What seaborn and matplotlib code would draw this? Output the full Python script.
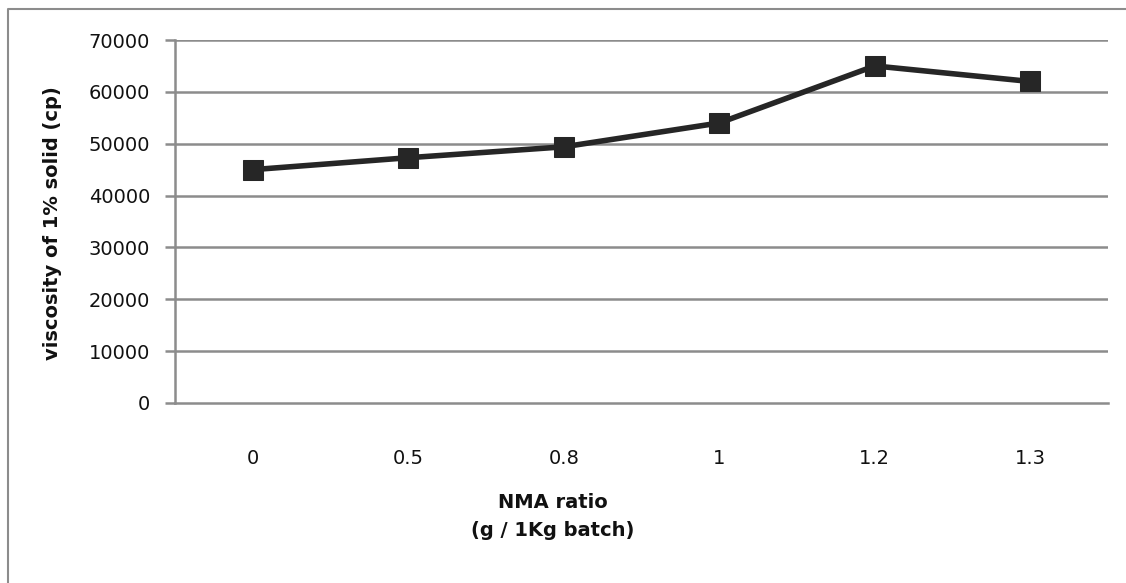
import matplotlib
matplotlib.use("Agg")
import matplotlib.pyplot as plt
import seaborn as sns
import pandas as pd
from matplotlib.lines import Line2D

categories = ["0", "0.5", "0.8", "1", "1.2", "1.3"]
viscosity = [45000, 47300, 49400, 54000, 65000, 62000]
y_ticks = [0, 10000, 20000, 30000, 40000, 50000, 60000, 70000]

sns.set_theme(style="white")
plt.rcParams['font.family'] = ['DejaVu Sans']

df = pd.DataFrame({"ratio": categories, "viscosity": viscosity})

W, H = 1126, 583
fig = plt.figure(figsize=(W / 100, H / 100), dpi=100)
ax = fig.add_axes([175 / W, 1 - 403 / H, (1108 - 175) / W, (403 - 40) / H])

grid_c = "#8c8c8c"
for t in y_ticks[1:]:
    ax.axhline(t, color=grid_c, lw=1.8, zorder=0)

sns.lineplot(data=df, x="ratio", y="viscosity", ax=ax, color="#262626",
             lw=4, marker="s", markersize=14, markeredgecolor="#262626",
             markerfacecolor="#262626", sort=False, zorder=3)

ax.set_xlim(-0.5, len(categories) - 0.5)
ax.set_ylim(0, 70000)
ax.set_yticks(y_ticks)
ax.set_yticklabels([str(t) for t in y_ticks], fontsize=14, color="#111111")
ax.set_xticks(range(len(categories)))
ax.set_xticklabels(categories, fontsize=14, color="#111111")
ax.tick_params(axis="y", which="both", left=True, length=7, width=1.8,
               color=grid_c, pad=11)
ax.tick_params(axis="x", which="both", bottom=False, pad=27)

for s in ["top", "right"]:
    ax.spines[s].set_visible(False)
for s in ["left", "bottom"]:
    ax.spines[s].set_color(grid_c)
    ax.spines[s].set_linewidth(1.8)

ax.set_xlabel("")
ax.set_ylabel("")
fig.text(553 / W, 1 - 502 / H, "NMA ratio", ha="center", va="center",
         fontsize=14, fontweight="bold", color="#111111")
fig.text(553 / W, 1 - 530 / H, "(g / 1Kg batch)", ha="center", va="center",
         fontsize=14, fontweight="bold", color="#111111")
fig.text(53 / W, 1 - 223 / H, "viscosity of 1% solid (cp)", ha="center",
         va="center", rotation=90, fontsize=14, fontweight="bold",
         color="#111111")

# outer chart border (top and left edges visible)
fig.lines.append(Line2D([8 / W, 8 / W, 1], [0, 1 - 9 / H, 1 - 9 / H],
                        transform=fig.transFigure, color=grid_c, lw=1.5))

fig.savefig("out.png", dpi=100, facecolor="white")
